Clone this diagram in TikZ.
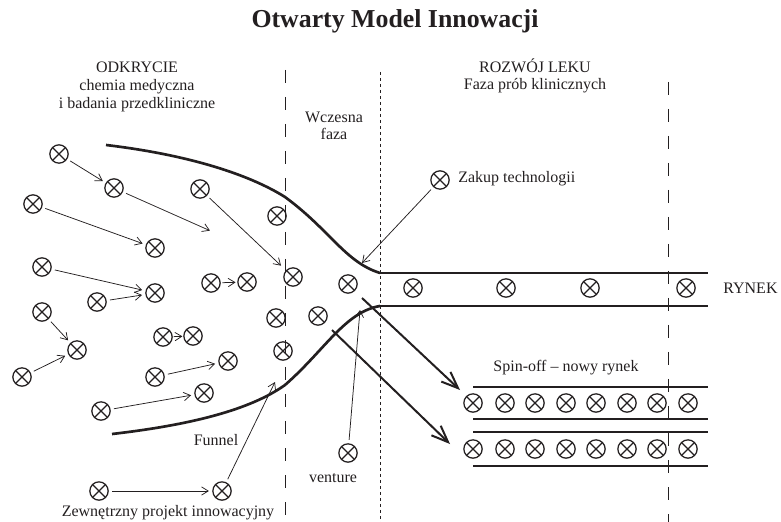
\documentclass[tikz,border=0pt]{standalone}
\usepackage{fontspec}
\setmainfont{Liberation Serif}
\usetikzlibrary{arrows.meta,calc}
\definecolor{ink}{HTML}{231F20}
\tikzset{proj/.style={circle,draw=ink,line width=.75pt,minimum size=11pt,inner sep=0pt,
  path picture={\draw[ink,line width=.7pt] (path picture bounding box.north west)--(path picture bounding box.south east)
    (path picture bounding box.north east)--(path picture bounding box.south west);}},
feed/.style={-{Straight Barb[length=4pt,width=5pt]},ink,line width=.45pt,shorten >=2pt,shorten <=2pt},
spin/.style={-{Straight Barb[length=10pt,width=8pt]},ink,line width=1.2pt},
wall/.style={ink,line width=1.6pt},
lane/.style={ink,line width=1.1pt},
phase/.style={ink,line width=.6pt,dash pattern=on 7.8pt off 8.4pt},
gate/.style={ink,line width=.6pt,dash pattern=on 1.8pt off 1.8pt},
lab/.style={font=\fontsize{9.6}{10.6}\selectfont,text=ink,align=center,inner sep=0pt}}

\begin{document}
\begin{tikzpicture}[x=.6pt,y=-.6pt]
\useasboundingbox (0,0) rectangle (781,522);
\node[lab,font=\fontsize{15.5}{18}\bfseries] (title) at (395,21) {Otwarty Model Innowacji};
\node[lab] (odk) at (137,87) {ODKRYCIE\\chemia medyczna\\i badania przedkliniczne};
\node[lab] (early) at (334,126) {Wczesna\\faza};
\node[lab] (dev) at (535,76) {ROZWÓJ LEKU\\Faza prób klinicznych};
% phase boundaries
\draw[phase] (285,70)--(285,522);
\draw[gate] (380,72)--(380,522);
\draw[phase] (668,82)--(668,522);
% funnel and market lanes
\draw[wall] (106,145) .. controls (190,155) and (250,175) .. (285,197) .. controls (330,230) and (345,262) .. (380,273);
\draw[wall] (112,434) .. controls (190,425) and (250,410) .. (285,385) .. controls (325,350) and (345,312) .. (380,306);
\draw[lane] (380,273)--(708,273);
\draw[lane] (380,306)--(708,306);
\draw[lane] (473,387)--(708,387);
\draw[lane] (473,419)--(708,419);
\draw[lane] (473,432)--(708,432);
\draw[lane] (473,466)--(708,466);
% discovery projects
\node[proj] (d1) at (59,154) {};  \node[proj] (d2) at (114,188) {};
\node[proj] (d3) at (33,204) {};  \node[proj] (d4) at (155,248) {};
\node[proj] (d5) at (42,267) {};  \node[proj] (d6) at (155,293) {};
\node[proj] (d7) at (97,302) {};  \node[proj] (d8) at (42,312) {};
\node[proj] (d9) at (77,350) {};  \node[proj] (d10) at (22,377) {};
\node[proj] (d11) at (163,337) {}; \node[proj] (d12) at (193,336) {};
\node[proj] (d13) at (155,377) {}; \node[proj] (d14) at (228,361) {};
\node[proj] (d15) at (101,411) {}; \node[proj] (d16) at (204,393) {};
% early phase
\node[proj] (e1) at (200,189) {}; \node[proj] (e2) at (277,216) {};
\node[proj] (e3) at (211,283) {}; \node[proj] (e4) at (247,282) {};
\node[proj] (e5) at (293,277) {}; \node[proj] (e6) at (348,284) {};
\node[proj] (e7) at (276,318) {}; \node[proj] (e8) at (318,316) {};
\node[proj] (e9) at (283,351) {};
% market
\node[proj] (m1) at (413,288) {}; \node[proj] (m2) at (506,288) {};
\node[proj] (m3) at (590,288) {}; \node[proj] (m4) at (686,288) {};
\node[lab,anchor=west] (rynek) at (723,288) {RYNEK};
% spin-off lanes
\node[proj] (s1) at (473,403) {}; \node[proj] (s2) at (505,403) {};
\node[proj] (s3) at (535,403) {}; \node[proj] (s4) at (566,403) {};
\node[proj] (s5) at (596,403) {}; \node[proj] (s6) at (627,403) {};
\node[proj] (s7) at (657,403) {}; \node[proj] (s8) at (688,403) {};
\node[proj] (t1) at (473,449) {}; \node[proj] (t2) at (505,449) {};
\node[proj] (t3) at (535,449) {}; \node[proj] (t4) at (566,449) {};
\node[proj] (t5) at (596,449) {}; \node[proj] (t6) at (627,449) {};
\node[proj] (t7) at (657,449) {}; \node[proj] (t8) at (688,449) {};
\node[lab] (spinlab) at (566,368) {Spin-off -- nowy rynek};
% outside sources
\node[proj] (z) at (440,180) {};
\node[lab,anchor=west] (zlab) at (458,179) {Zakup technologii};
\node[proj] (v) at (348,453) {};
\node[lab] (vlab) at (333,478) {venture};
\node[proj] (x1) at (99,491) {}; \node[proj] (x2) at (222,491) {};
\node[lab] (xlab) at (168,513) {Zewnętrzny projekt innowacyjny};
\node[lab] (funnel) at (216,440) {Funnel};
\coordinate (d2end) at (213,232);
\coordinate (zend) at (362,263);
\coordinate (vend) at (360,310);
\coordinate (xend) at (275,382);
\coordinate (sa) at (362,298); \coordinate (sb) at (460,390);
\coordinate (ta) at (332,330); \coordinate (tb) at (450,444);
% flows
\draw[feed] (d1)--(d2);
\draw[feed] (d2)--(d2end);
\draw[feed] (d3)--(d4);
\draw[feed] (d5)--(d6);
\draw[feed] (d7)--(d6);
\draw[feed] (d8)--(d9);
\draw[feed] (d10)--(d9);
\draw[feed,shorten <=.5pt,shorten >=.5pt] (d11)--(d12);
\draw[feed] (d13)--(d14);
\draw[feed] (d15)--(d16);
\draw[feed,shorten >=4pt] (e1)--(e5);
\draw[feed,shorten <=1pt,shorten >=1pt] (e3)--(e4);
\draw[feed] (x1)--(x2);
\draw[feed,shorten >=0pt] (x2)--(xend);
\draw[feed,shorten >=0pt] (v)--(vend);
\draw[feed,shorten >=0pt] (z)--(zend);
\draw[spin] (sa)--(sb);
\draw[spin] (ta)--(tb);
\end{tikzpicture}
\end{document}
